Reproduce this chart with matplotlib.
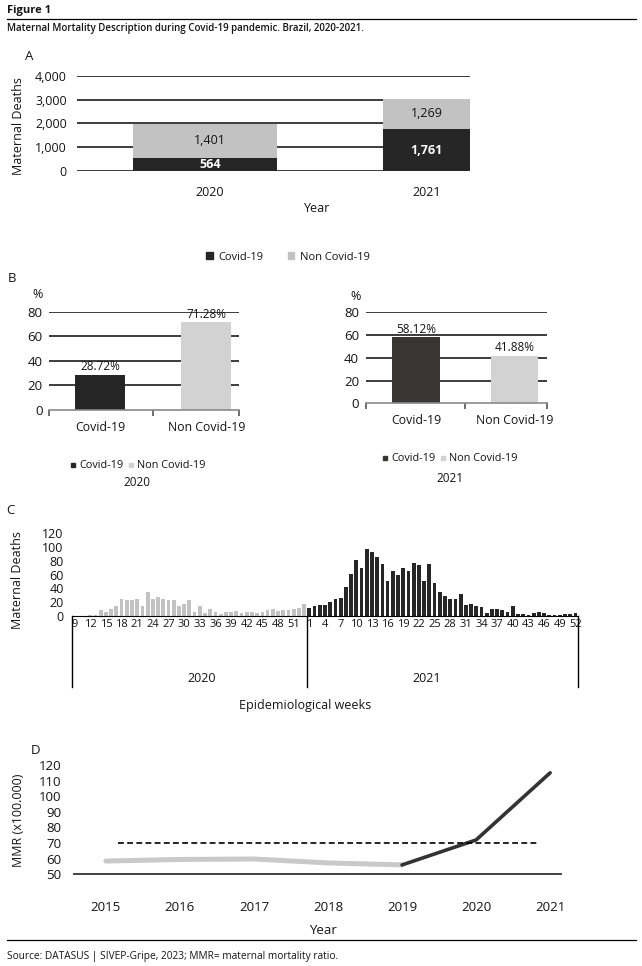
import matplotlib.pyplot as plt
from matplotlib.lines import Line2D
from matplotlib.patches import Patch

W, H = 642, 966

COLOR_DARK = "#262626"
COLOR_DARK_B = "#383535"
COLOR_LIGHT = "#c2c2c2"
COLOR_LIGHT_B = "#d2d2d2"
COLOR_GRID = "#3c3c3c"
COLOR_TEXT = "#141414"

# A - maternal deaths by year
YEARS_A = ["2020", "2021"]
COVID_A = [564, 1761]
NON_COVID_A = [1401, 1269]

# B - share of deaths (%)
B_CATS = ["Covid-19", "Non Covid-19"]
PCT_2020 = [28.72, 71.28]
PCT_2021 = [58.12, 41.88]

# C - maternal deaths by epidemiological week
WEEKS_2020 = list(range(9, 54))
DEATHS_2020 = [0, 0, 0, 2, 2, 8, 6, 10, 14, 25, 23, 23, 25, 15, 34, 25, 27, 25, 23,
               23, 14, 18, 23, 6, 14, 5, 10, 6, 3, 6, 6, 7, 5, 6, 6, 4, 6, 9, 10, 7,
               8, 8, 10, 11, 17]
WEEKS_2021 = list(range(1, 53))
DEATHS_2021 = [12, 15, 16, 16, 20, 24, 26, 42, 61, 81, 69, 97, 92, 86, 75, 50, 65,
               60, 69, 65, 76, 74, 51, 75, 47, 34, 29, 25, 24, 32, 16, 18, 14, 13, 5,
               10, 10, 8, 6, 14, 3, 3, 1, 4, 6, 5, 1, 1, 1, 3, 3, 4]

# D - maternal mortality ratio
YEARS_D = [2015, 2016, 2017, 2018, 2019, 2020, 2021]
MMR = [58.5, 59.5, 59.8, 57.3, 56.0, 72.0, 115.0]
MMR_REF = 70

plt.rcParams["font.family"] = ["Open Sans", "DejaVu Sans"]
plt.rcParams["text.color"] = COLOR_TEXT
plt.rcParams["xtick.color"] = COLOR_TEXT
plt.rcParams["ytick.color"] = COLOR_TEXT

fig = plt.figure(figsize=(W / 100, H / 100), dpi=100)


def px_axes(left, top, right, bottom):
    return fig.add_axes([left / W, 1 - bottom / H, (right - left) / W, (bottom - top) / H])


def ftext(x, y, s, **kw):
    kw.setdefault("va", "center")
    kw.setdefault("ha", "center")
    fig.text(x / W, 1 - y / H, s, **kw)


def hline(x0, x1, y, **kw):
    fig.add_artist(Line2D([x0 / W, x1 / W], [1 - y / H] * 2, **kw))


def clean(ax):
    for s in ax.spines.values():
        s.set_visible(False)
    ax.tick_params(length=0)


# header / footer
ftext(7, 10, "Figure 1", ha="left", fontsize=8, fontweight="bold")
hline(7, 636, 19, color="black", lw=0.9)
ftext(7, 29, "Maternal Mortality Description during Covid-19 pandemic. Brazil, 2020-2021.",
      ha="left", fontsize=7, fontweight="semibold")
hline(7, 636, 940, color="black", lw=0.9)
ftext(7, 957, "Source: DATASUS | SIVEP-Gripe, 2023; MMR= maternal mortality ratio.",
      ha="left", fontsize=7.3)

# ---- A ----
ftext(29, 56, "A", fontsize=9.5)
ax = px_axes(76.5, 75.7, 470, 171)
clean(ax)
xa = range(len(YEARS_A))
bw = 0.576
ax.bar(xa, COVID_A, width=bw, color=COLOR_DARK, zorder=2)
ax.bar(xa, NON_COVID_A, width=bw, bottom=COVID_A, color=COLOR_LIGHT, zorder=2)
ax.set_xlim(-0.514, 1.06)
ax.set_ylim(0, 4000)
ax.set_yticks(range(0, 4001, 1000))
ax.set_yticklabels([f"{v:,}" for v in range(0, 4001, 1000)], fontsize=9)
ax.yaxis.grid(True, color=COLOR_GRID, lw=1.4)
ax.set_axisbelow(True)
# label positions: centre of the visible part of each bar
lim_r = ax.get_xlim()[1]
lab_x = [(i - bw / 2 + lim_r) / 2 if i + bw / 2 > lim_r else i + 0.02 for i in xa]
ax.set_xticks(lab_x)
ax.set_xticklabels(YEARS_A, fontsize=9)
ax.tick_params(axis="x", pad=11)
ax.tick_params(axis="y", pad=7)
for i, (c, n) in enumerate(zip(COVID_A, NON_COVID_A)):
    ax.text(lab_x[i], c / 2, f"{c:,}", ha="center", va="center", color="white",
            fontsize=9, fontweight="bold", zorder=3)
    ax.text(lab_x[i], c + n / 2, f"{n:,}", ha="center", va="center", fontsize=9, zorder=3)
ftext(317, 208, "Year", fontsize=9)
ftext(18.5, 126, "Maternal Deaths", rotation=90, fontsize=9)
fig.legend(handles=[Patch(color=COLOR_DARK, label="Covid-19"),
                    Patch(color=COLOR_LIGHT, label="Non Covid-19")],
           loc="center", bbox_to_anchor=(288 / W, 1 - 257 / H), ncol=2, frameon=False,
           fontsize=8, handlelength=0.6, handleheight=0.6, handletextpad=0.5,
           columnspacing=2.2)


# ---- B ----
def pct_panel(box, xlim, bw, values, colors, pct_pos, leg_pos, year_pos, year):
    ax = px_axes(*box)
    clean(ax)
    xb = range(len(B_CATS))
    ax.bar(xb, values, width=bw, color=colors, zorder=2)
    ax.set_xlim(*xlim)
    ax.set_ylim(0, 80)
    ax.set_yticks(range(0, 81, 20))
    ax.set_yticklabels([str(v) for v in range(0, 81, 20)], fontsize=9.5)
    ax.yaxis.grid(True, color=COLOR_GRID, lw=1.4)
    ax.get_ygridlines()[0].set_visible(False)
    ax.set_axisbelow(True)
    ax.spines["bottom"].set_visible(True)
    ax.spines["bottom"].set_color("#8a8a8a")
    ax.spines["bottom"].set_linewidth(1.2)
    ax.set_xticks(xb)
    ax.set_xticklabels(B_CATS, fontsize=8.8)
    ax.set_xticks([xlim[0], 0.5, xlim[1]], minor=True)
    ax.tick_params(axis="x", which="minor", length=4, width=1.2, color="#555555")
    ax.tick_params(axis="x", which="major", pad=8)
    ax.tick_params(axis="y", pad=5)
    for i, v in enumerate(values):
        ax.annotate(f"{v:.2f}%", (i, v), xytext=(0, 1), textcoords="offset points",
                    ha="center", va="bottom", fontsize=8.5)
    ftext(*pct_pos, "%", fontsize=9)
    fig.legend(handles=[Line2D([], [], ls="", marker="s", ms=3.5, color=c, label=l)
                        for c, l in zip(colors, B_CATS)],
               loc="center", bbox_to_anchor=(leg_pos[0] / W, 1 - leg_pos[1] / H), ncol=2,
               frameon=False, fontsize=7.8, handlelength=0.5, handletextpad=0.3,
               columnspacing=0.4)
    ftext(*year_pos, year, fontsize=8.5)


ftext(12, 279, "B", fontsize=9.5)
pct_panel((49.4, 311.7, 238.7, 410), (-0.481, 1.305), 0.47, PCT_2020,
          [COLOR_DARK, COLOR_LIGHT_B], (38, 295), (138, 466), (137, 482), "2020")
pct_panel((366, 312.3, 547, 403.3), (-0.508, 1.33), 0.48, PCT_2021,
          [COLOR_DARK_B, COLOR_LIGHT_B], (356, 296), (450, 459), (450, 479), "2021")

# ---- C ----
ftext(10, 511, "C", fontsize=9.5)
ax = px_axes(72, 533, 578, 616)
clean(ax)
deaths = DEATHS_2020 + DEATHS_2021
xc = list(range(len(deaths)))
colors_c = [COLOR_LIGHT] * len(DEATHS_2020) + [COLOR_DARK] * len(DEATHS_2021)
ax.bar(xc, deaths, width=0.72, color=colors_c)
ax.set_xlim(-0.5, len(deaths) - 0.5)
ax.set_ylim(0, 120)
ax.set_yticks(range(0, 121, 20))
ax.set_yticklabels([str(v) for v in range(0, 121, 20)], fontsize=9)
ax.tick_params(axis="y", pad=6)
ax.spines["bottom"].set_visible(True)
ax.spines["bottom"].set_color("black")
weeks = WEEKS_2020 + WEEKS_2021
tick_idx = [i for i, w in enumerate(weeks)
            if (i < len(WEEKS_2020) and (w - 9) % 3 == 0 and w <= 51)
            or (i >= len(WEEKS_2020) and (w - 1) % 3 == 0)]
ax.set_xticks(tick_idx)
ax.set_xticklabels([str(weeks[i]) for i in tick_idx], fontsize=8)
ax.tick_params(axis="x", pad=2)
sep = len(DEATHS_2020) - 0.5
for xv in (-0.5, sep, len(deaths) - 0.5):
    ax.plot([xv, xv], [0, -0.855], color="black", lw=1, clip_on=False,
            transform=ax.get_xaxis_transform())
ftext(202, 679, "2020", fontsize=9)
ftext(427, 679, "2021", fontsize=9)
ftext(305, 705, "Epidemiological weeks", fontsize=9)
ftext(18, 580, "Maternal Deaths", rotation=90, fontsize=9)

# ---- D ----
ftext(36, 750, "D", fontsize=9.5)
ax = px_axes(74, 765, 560.5, 874.3)
clean(ax)
ax.spines["bottom"].set_visible(True)
ax.spines["bottom"].set_color("#333333")
ax.spines["bottom"].set_linewidth(1.3)
ax.plot(YEARS_D[:5], MMR[:5], color="#c9c9c9", lw=3.6, solid_capstyle="round",
        solid_joinstyle="round")
ax.plot(YEARS_D[4:], MMR[4:], color="#333333", lw=2.6, solid_capstyle="round")
ax.axhline(MMR_REF, xmin=0.09, xmax=0.956, color="black", lw=1.2, ls=(0, (3.5, 2)))
ax.set_xlim(2014.57, 2021.14)
ax.set_ylim(50, 120)
ax.set_yticks(range(50, 121, 10))
ax.set_yticklabels([str(v) for v in range(50, 121, 10)], fontsize=9.5)
ax.set_xticks(YEARS_D)
ax.set_xticklabels([str(y) for y in YEARS_D], fontsize=9.5)
ax.tick_params(axis="x", pad=19)
ax.tick_params(axis="y", pad=9)
ftext(323, 931, "Year", fontsize=9.5)
ftext(18.5, 820, "MMR (x100.000)", rotation=90, fontsize=9)

fig.savefig("out.png", dpi=100, facecolor="white")
